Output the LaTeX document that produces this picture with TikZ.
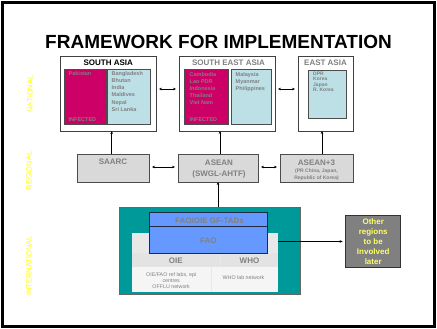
\documentclass[tikz,border=0pt]{standalone}
\usepackage{fontspec}
\setmainfont{Liberation Sans}
\usetikzlibrary{arrows.meta}
\definecolor{pinkc}{HTML}{CC0066}
\definecolor{lblue}{HTML}{BCE0E6}
\definecolor{tealc}{HTML}{009999}
\definecolor{fblue}{HTML}{6699FF}
\definecolor{rgray}{HTML}{D9D9D9}
\definecolor{txtg}{HTML}{808080}
\definecolor{ylw}{HTML}{FFFF00}
\definecolor{ylw2}{HTML}{FFFF66}
\definecolor{row1}{HTML}{E8E8E8}
\definecolor{row2}{HTML}{E3E3E3}
\definecolor{row3}{HTML}{F5F5F5}
\definecolor{navy}{HTML}{1F2A44}
\begin{document}
\begin{tikzpicture}[x=1pt,y=-1pt,
  rect/.style={rectangle, inner sep=0pt, outer sep=0pt},
  outerbox/.style={rect, draw=black!75, line width=0.6pt, fill=white},
  innerbox/.style={rect, draw=black!70, line width=0.7pt},
  regbox/.style={rect, draw=black!70, line width=0.6pt, fill=rgray},
  lst/.style={anchor=north west, inner sep=0pt, align=left, text=txtg, font=\fontsize{5.5}{7.1}\selectfont\bfseries},
  ttl/.style={inner sep=0pt, font=\fontsize{8}{9}\selectfont\bfseries},
  side/.style={inner sep=0pt, rotate=90, text=ylw, font=\fontsize{7.5}{9}\selectfont},
  arr/.style={-{Stealth[length=3pt,width=2.6pt]}, line width=0.6pt, black},
  darr/.style={{Stealth[length=3pt,width=2.6pt]}-{Stealth[length=3pt,width=2.6pt]}, line width=0.6pt, black, shorten <=3pt, shorten >=3pt}]
\useasboundingbox (0,0) rectangle (437,329);
\fill[white] (0,0) rectangle (437,329);
\draw[line width=2.5pt] (2.5,2.5) rectangle (434.5,326.5);

% title
\node[inner sep=0pt, font=\fontsize{19}{22}\selectfont\bfseries] (title) at (218.5,41.5) {FRAMEWORK FOR IMPLEMENTATION};

% side labels
\node[side] (lnat) at (30,94) {NATIONAL};
\node[side] (lreg) at (29,171) {REGIONAL};
\node[side] (lint) at (29,266) {INTERNATIONAL};

% ---- national
\node[outerbox, minimum width=95.3pt, minimum height=75pt] (sa) at (108.3,93.5) {};
\node[ttl] (satitle) at (108.3,62.5) {SOUTH ASIA};
\node[innerbox, fill=pinkc, minimum width=42pt, minimum height=55pt] (sapink) at (85,96.5) {};
\node[innerbox, fill=lblue, minimum width=43.4pt, minimum height=55pt] (sablue) at (129,96.5) {};
\node[lst] (sap) at (68.5,71.5) {Pakistan};
\node[lst, anchor=south west] (sainf) at (68.5,121.5) {INFECTED};
\node[lst] (sal) at (111.5,71.5) {Bangladesh\\Bhutan\\India\\Maldives\\Nepal\\Sri Lanka};

\node[outerbox, minimum width=96pt, minimum height=75pt] (sea) at (227,93.5) {};
\node[ttl, text=txtg] (seatitle) at (228.5,62.5) {SOUTH EAST ASIA};
\node[innerbox, fill=pinkc, minimum width=44.7pt, minimum height=55pt] (seapink) at (206.3,96.5) {};
\node[innerbox, fill=lblue, minimum width=40pt, minimum height=55pt] (seablue) at (251,96.5) {};
\node[lst] (seap) at (189.5,72) {Cambodia\\Lao PDR\\Indonesia\\Thailand\\Viet Nam};
\node[lst, anchor=south west] (seainf) at (189.5,121.5) {INFECTED};
\node[lst] (seal) at (235.5,72) {Malaysia\\Myanmar\\Philippines};

\node[outerbox, minimum width=55pt, minimum height=75pt] (ea) at (325.5,93.5) {};
\node[ttl, text=txtg] (eatitle) at (325.5,62.5) {EAST ASIA};
\node[innerbox, fill=lblue, minimum width=38pt, minimum height=48pt] (eablue) at (327.7,94) {};
\node[lst, font=\fontsize{5}{5.2}\selectfont\bfseries] (eal) at (313,72) {DPR\\Korea\\Japan\\R. Korea};

\draw[darr] ([yshift=4.5pt]sa.east) -- ([yshift=4.5pt]sea.west);
\draw[darr] ([yshift=4.5pt]sea.east) -- ([yshift=4.5pt]ea.west);

% ---- regional
\node[regbox, minimum width=72pt, minimum height=28pt] (saarc) at (113,168) {};
\node[ttl, text=txtg, anchor=north] (saarct) at (113,159) {SAARC};
\node[regbox, minimum width=80pt, minimum height=28pt] (asean) at (218,168) {};
\node[ttl, text=txtg, align=center, font=\fontsize{8}{10.3}\selectfont\bfseries] (aseant) at (219,169) {ASEAN\\(SWGL-AHTF)};
\node[regbox, minimum width=73pt, minimum height=28pt] (asean3) at (316.5,168) {};
\node[ttl, text=txtg, anchor=north] (asean3t) at (316.5,159.5) {ASEAN+3};
\node[inner sep=0pt, text=txtg, align=center, font=\fontsize{5}{6.6}\selectfont\bfseries] (asean3s) at (316.5,175) {(PR China, Japan,\\Republic of Korea)};

\draw[darr] ([yshift=1pt]saarc.east) -- ([yshift=1pt]asean.west);
\draw[darr] ([yshift=1pt]asean.east) -- ([yshift=1pt]asean3.west);

\draw[arr] ([xshift=-1.3pt]saarc.north) -- ([xshift=-1.3pt]saarc.north |- sa.south);
\draw[arr] ([xshift=2pt]asean.north) -- ([xshift=2pt]asean.north |- sea.south);
\draw[arr] ([xshift=5.5pt]asean3.north) -- ([xshift=5.5pt]asean3.north |- ea.south);

% ---- international
\node[rect, fill=tealc, draw=black!60, line width=0.6pt, minimum width=180.7pt, minimum height=86.7pt] (teal) at (209.7,250.7) {};
\node[rect, fill=row1, minimum width=146.3pt, minimum height=59pt] (tbl) at (204.85,262.2) {};
\node[rect, fill=row2, minimum width=88.3pt, minimum height=13.7pt] (oiec) at (175.85,259.85) {};
\node[rect, fill=row2, minimum width=57pt, minimum height=13.7pt] (whoc) at (249.5,259.85) {};
\node[rect, fill=row3, minimum width=79pt, minimum height=25pt] (oiel) at (171.2,279.2) {};
\node[rect, fill=row3, minimum width=66.3pt, minimum height=25pt] (whol) at (244.85,279.2) {};
\node[ttl, text=txtg] (oiet) at (175.85,260.5) {OIE};
\node[ttl, text=txtg] (whot) at (249.5,260.5) {WHO};
\node[inner sep=0pt, text=txtg, align=center, font=\fontsize{5.3}{6}\selectfont] (oielt) at (171.2,281) {OIE/FAO ref labs, epi\\centres\\OFFLU network};
\node[inner sep=0pt, text=txtg, font=\fontsize{5.3}{6}\selectfont] (wholt) at (243.5,277.7) {WHO lab network};

\node[rect, fill=fblue, draw=navy, line width=0.9pt, minimum width=118.7pt, minimum height=26.6pt] (fao) at (208.3,240) {};
\node[rect, fill=fblue, draw=navy, line width=0.9pt, minimum width=118.7pt, minimum height=14pt] (gf) at (208.3,219.7) {};
\node[ttl, text=txtg] (gft) at (209.5,220.2) {FAO/OIE GF-TADs};
\node[ttl, text=txtg] (faot) at (208.3,240.5) {FAO};

\draw[arr] (teal.north -| asean.south) -- (asean.south);

\node[rect, fill=black!50, draw=black!80, line width=0.6pt, minimum width=55pt, minimum height=51.6pt] (oth) at (373.2,241.5) {};
\node[inner sep=0pt, text=ylw2, align=center, font=\fontsize{8}{10}\selectfont\bfseries] (otht) at (373.2,242) {Other\\regions\\to be\\Involved\\later};

\draw[arr, shorten >=3pt] (oth.west -| tbl.east) -- (oth.west);
\end{tikzpicture}
\end{document}
